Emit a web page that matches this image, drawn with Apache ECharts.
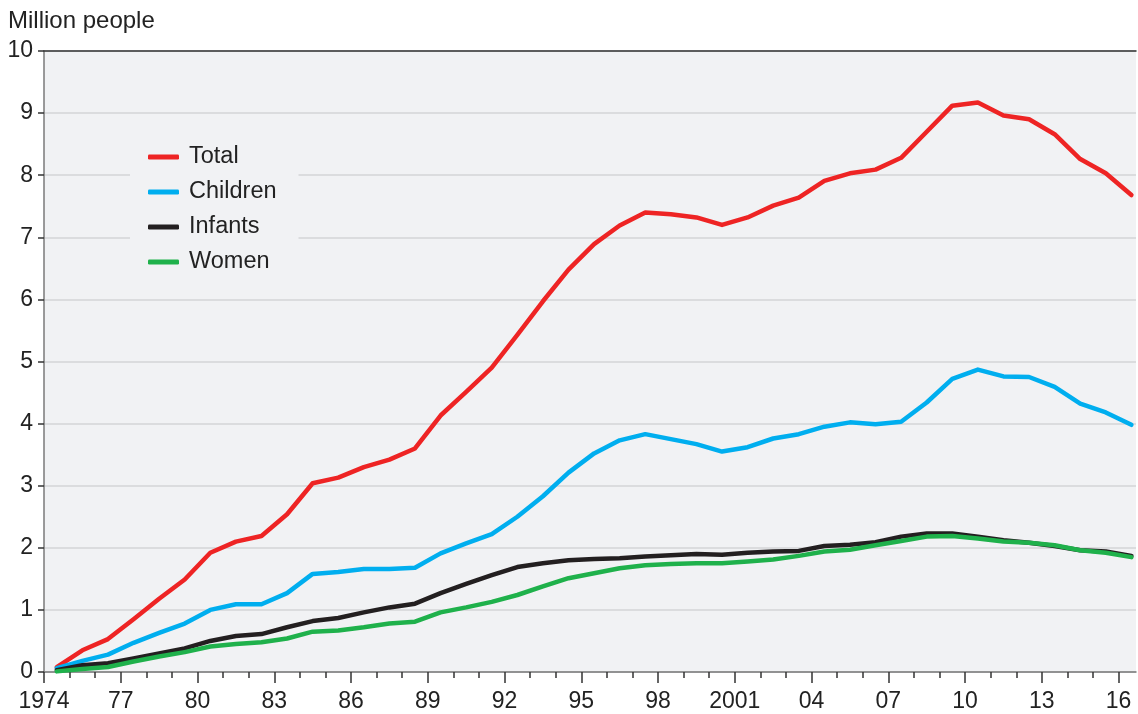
<!DOCTYPE html>
<html>
<head>
<meta charset="utf-8">
<script src="https://cdn.jsdelivr.net/npm/echarts@6/dist/echarts.min.js"></script>
<style>
html,body{margin:0;padding:0;background:#fff;}
#chart{width:1138px;height:714px;}
</style>
</head>
<body>
<div id="chart"></div>
<script>
// Fiscal years (values plotted at mid-year)
const years = [1974,1975,1976,1977,1978,1979,1980,1981,1982,1983,1984,1985,1986,1987,1988,1989,1990,1991,1992,1993,1994,1995,1996,1997,1998,1999,2000,2001,2002,2003,2004,2005,2006,2007,2008,2009,2010,2011,2012,2013,2014,2015,2016];
const total    = [0.08,0.35,0.53,0.85,1.18,1.49,1.92,2.10,2.19,2.54,3.04,3.13,3.30,3.42,3.60,4.13,4.51,4.90,5.43,5.97,6.48,6.89,7.19,7.40,7.37,7.32,7.20,7.32,7.51,7.64,7.91,8.03,8.09,8.28,8.70,9.12,9.17,8.96,8.90,8.66,8.26,8.03,7.68];
const children = [0.06,0.18,0.28,0.47,0.63,0.78,1.00,1.09,1.09,1.27,1.58,1.61,1.66,1.66,1.68,1.91,2.07,2.22,2.50,2.83,3.21,3.52,3.73,3.83,3.75,3.67,3.55,3.62,3.76,3.83,3.95,4.02,3.99,4.03,4.34,4.72,4.87,4.76,4.75,4.59,4.32,4.18,3.98];
const infants  = [0.03,0.11,0.14,0.22,0.30,0.38,0.50,0.58,0.61,0.72,0.82,0.87,0.96,1.04,1.10,1.27,1.42,1.56,1.69,1.75,1.80,1.82,1.83,1.86,1.88,1.90,1.89,1.92,1.94,1.95,2.03,2.05,2.09,2.18,2.23,2.23,2.18,2.12,2.08,2.03,1.96,1.94,1.87];
const women    = [0.01,0.05,0.08,0.17,0.25,0.32,0.41,0.45,0.48,0.54,0.65,0.67,0.72,0.78,0.81,0.96,1.04,1.13,1.24,1.38,1.51,1.59,1.67,1.72,1.74,1.75,1.75,1.78,1.81,1.87,1.94,1.97,2.04,2.11,2.18,2.19,2.15,2.10,2.08,2.04,1.96,1.92,1.85];
const seriesNames = ['Total','Children','Infants','Women'];
const tickYears  = [1974,1977,1980,1983,1986,1989,1992,1995,1998,2001,2004,2007,2010,2013,2016];
const tickLabels = ['1974','77','80','83','86','89','92','95','98','2001','04','07','10','13','16'];
const yTicks = [0,1,2,3,4,5,6,7,8,9,10];

const X_MIN = 1974, X_MAX = 2016.68;
const colors = ['#ee2424','#00aeef','#231f20','#1fb14b'];
const bg = '#f1f2f4';
const font = "'Liberation Sans', Arial, Helvetica, sans-serif";

function pts(vals){ return vals.map((v,i)=>[years[i]+0.5, v]); }
const allData = [total, children, infants, women];

const gridPos = {left:44, right:2, top:51, bottom:42};

const chart = echarts.init(document.getElementById('chart'), null, {renderer:'canvas'});
chart.setOption({
  animation:false,
  backgroundColor:'#fff',
  textStyle:{fontFamily:font},
  title:{
    text:'Million people', left:8, top:9, padding:0,
    textStyle:{fontSize:24, fontWeight:'normal', color:'#222', fontFamily:font}
  },
  legend:{
    data:seriesNames, orient:'vertical', left:130, top:135,
    padding:[10,22,10,18], backgroundColor:bg,
    itemWidth:31, itemHeight:5, icon:'roundRect', itemGap:11,
    textStyle:{fontSize:23.5, color:'#222', lineHeight:24, padding:[0,0,0,5], fontFamily:font}
  },
  grid:[
    Object.assign({show:true, backgroundColor:bg, borderWidth:0}, gridPos),
    Object.assign({show:false}, gridPos)
  ],
  xAxis:[
    {
      type:'value', gridIndex:0, position:'bottom', min:X_MIN, max:X_MAX,
      axisLine:{show:true, lineStyle:{color:'#7a7a7a', width:1.5}},
      axisTick:{show:true, customValues:tickYears, length:11, lineStyle:{color:'#333', width:1.5}},
      axisLabel:{show:true, customValues:tickYears, margin:18, fontSize:23, color:'#222',
        formatter:(v)=>{ const k = tickYears.indexOf(Math.round(v)); return k>=0 ? tickLabels[k] : ''; }},
      splitLine:{show:false}
    },
    {
      type:'value', gridIndex:0, position:'top', min:X_MIN, max:X_MAX,
      axisLine:{show:true, lineStyle:{color:'#333', width:1.5}},
      axisTick:{show:false}, axisLabel:{show:false}, splitLine:{show:false}
    },
    {
      type:'value', gridIndex:1, position:'bottom', min:X_MIN, max:X_MAX,
      axisLine:{show:false},
      axisTick:{show:true, customValues:years, length:6, lineStyle:{color:'#333', width:1.5}},
      axisLabel:{show:false}, splitLine:{show:false}
    }
  ],
  yAxis:[
    {
      type:'value', gridIndex:0, min:0, max:10, interval:1,
      axisLine:{show:true, lineStyle:{color:'#7a7a7a', width:1.5}},
      axisTick:{show:true, length:6, lineStyle:{color:'#333', width:1.5}},
      axisLabel:{show:true, margin:11, fontSize:23, color:'#222',
        formatter:(v)=> yTicks.indexOf(v)>=0 ? String(v) : ''},
      splitLine:{show:true, lineStyle:{color:'#d3d4d7', width:1.5}}
    },
    {
      type:'value', gridIndex:1, min:0, max:10, show:false,
      splitLine:{show:false}
    }
  ],
  series: allData.map((vals,k)=>({
    name:seriesNames[k], type:'line', xAxisIndex:0, yAxisIndex:0,
    data:pts(vals), symbol:'none', smooth:false,
    color:colors[k],
    itemStyle:{color:colors[k]},
    lineStyle:{color:colors[k], width:4.5, join:'round', cap:'round'},
    z:2+k
  }))
});
</script>
</body>
</html>
